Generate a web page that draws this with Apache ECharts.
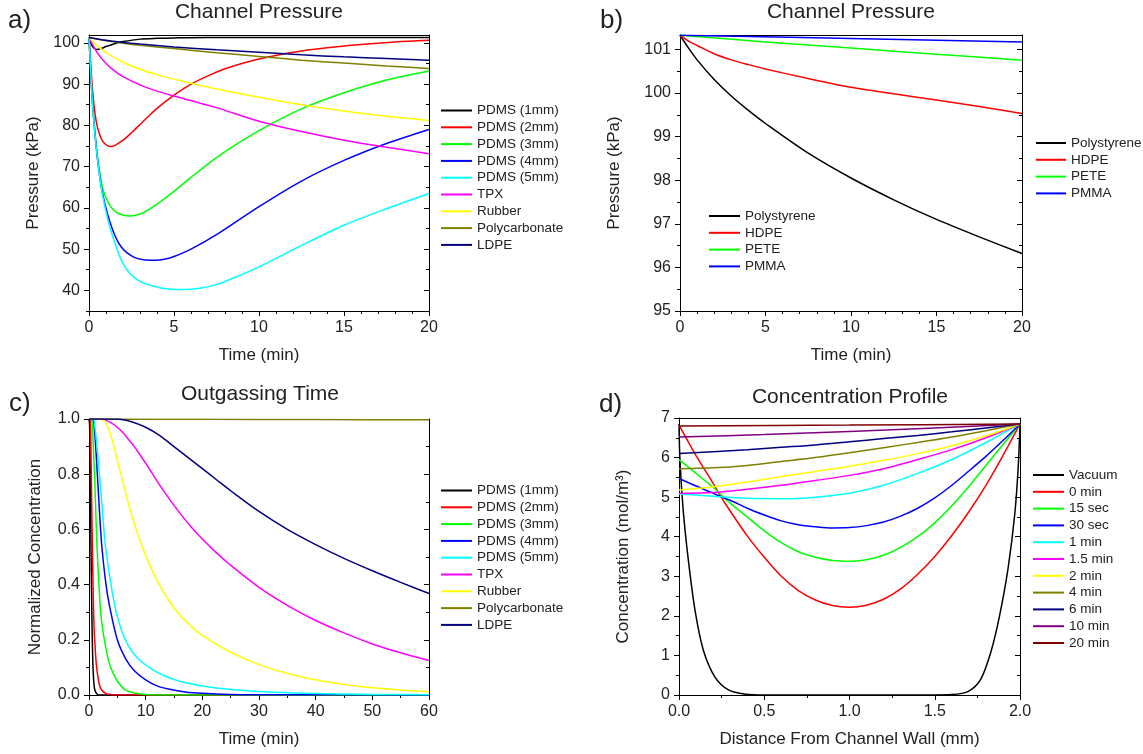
<!DOCTYPE html>
<html><head><meta charset="utf-8">
<script src="https://cdn.jsdelivr.net/npm/echarts@6/dist/echarts.min.js"></script>
<style>html,body{margin:0;padding:0;background:#fff}#c{width:1143px;height:754px}</style>
</head><body><div id="c"></div>
<script>
// ---------- DATA ----------
// Panel a: Channel Pressure (kPa) vs time (min)
const aNames = ['PDMS (1mm)','PDMS (2mm)','PDMS (3mm)','PDMS (4mm)','PDMS (5mm)','TPX','Rubber','Polycarbonate','LDPE'];
const a_pdms1_t = [0,0.15,0.3,0.45,0.7,1,1.5,2,3,4,5,7,10,15,20];
const a_pdms1_p = [101.3,99.5,98.7,98.4,98.6,99.1,99.8,100.3,100.9,101.1,101.2,101.3,101.3,101.3,101.3];
const a_pdms2_t = [0,0.1,0.2,0.35,0.5,0.75,1,1.25,1.5,2,2.5,3,3.5,4,5,6,7,8,9,10,12,14,16,18,20];
const a_pdms2_p = [101.3,95,89,83,79.5,76.5,75.3,74.9,75.1,76.4,78.2,80.2,82.2,84.1,87.3,90,92,93.7,95,96.1,97.7,98.8,99.6,100.2,100.6];
const a_pdms3_t = [0,0.18,0.33,0.53,0.82,1.1,1.41,1.8,2.4,3,3.67,4.5,5,6,7.5,10,12.5,15,17.5,20];
const a_pdms3_p = [101.3,87.2,79.3,71.5,64.5,61.5,59.6,58.5,58.0,58.5,60.0,62.4,64.0,67.4,72.2,78.7,84,87.9,91,93.2];
const a_pdms4_t = [0,0.18,0.33,0.53,0.82,1.36,1.9,2.6,3.2,3.9,4.5,5,6,7.5,10,12.5,15,17.5,20];
const a_pdms4_p = [101.3,87,79,70.8,63,55,50.5,48.1,47.4,47.3,47.6,48.2,50,53.5,60.3,66.5,71.5,75.6,79.0];
const a_pdms5_t = [0,0.18,0.33,0.53,0.82,1.28,2,2.9,4.3,5.6,6.5,7.5,8.5,10,12.5,15,17.5,20];
const a_pdms5_p = [101.3,86.9,78.8,70.7,62.6,54.6,46.5,42.4,40.5,40.2,40.5,41.4,43.0,45.7,50.9,55.8,59.8,63.5];
const a_tpx_t = [0,0.5,1,1.5,2,3,4,5,6,7.5,10,12.5,15,17.5,20];
const a_tpx_p = [101.3,97.5,95,93.2,91.8,89.8,88.3,87.1,86,84.3,81,78.5,76.4,74.7,73.1];
const a_rub_t = [0,0.5,1,1.5,2,3,4,5,6,7.5,10,12.5,15,17.5,20];
const a_rub_p = [101.3,99.2,97.7,96.4,95.3,93.6,92.3,91.2,90.2,88.8,86.8,85,83.5,82.2,81.2];
const a_pc_t = [0,1,2,3,5,7.5,10,12.5,15,17.5,20];
const a_pc_p = [101.3,100.5,99.9,99.4,98.6,97.6,96.7,95.8,95.1,94.4,93.8];
const a_ldpe_t = [0,1,2,3,5,7.5,10,12.5,15,17.5,20];
const a_ldpe_p = [101.3,100.6,100.1,99.7,99.0,98.3,97.7,97.1,96.6,96.2,95.8];
const aXTicks = [0,5,10,15,20];
const aXMinor = [1,2,3,4,6,7,8,9,11,12,13,14,16,17,18,19];
const aYTicks = [40,50,60,70,80,90,100];
const aYMinor = [35,45,55,65,75,85,95];

// Panel b: Channel Pressure (kPa) vs time (min)
const bNames = ['Polystyrene','HDPE','PETE','PMMA'];
const b_ps_t = [0,0.5,1,2,3,4,5,7.5,10,12.5,15,17.5,20];
const b_ps_p = [101.325,101.03,100.76,100.31,99.93,99.6,99.3,98.62,98.05,97.55,97.1,96.7,96.32];
const b_hdpe_t = [0,0.5,1,2,3,4,5,7.5,10,12.5,15,17.5,20];
const b_hdpe_p = [101.325,101.19,101.09,100.9,100.76,100.65,100.55,100.33,100.13,99.98,99.84,99.69,99.53];
const b_pete_t = [0,5,10,15,20];
const b_pete_p = [101.325,101.17,101.03,100.89,100.75];
const b_pmma_t = [0,10,20];
const b_pmma_p = [101.325,101.25,101.17];
const bXTicks = [0,5,10,15,20];
const bXMinor = [1,2,3,4,6,7,8,9,11,12,13,14,16,17,18,19];
const bYTicks = [95,96,97,98,99,100,101];
const bYMinor = [95.5,96.5,97.5,98.5,99.5,100.5];

// Panel c: Outgassing Time, normalized concentration vs time (min)
const c_pdms1_t = [0,0.1,0.2,0.3,0.4,0.5,0.6,0.75,1,1.5,2,60];
const c_pdms1_v = [1,0.98,0.85,0.65,0.45,0.3,0.18,0.08,0.02,0.002,0,0];
const c_pdms2_t = [0,0.2,0.3,0.41,0.5,0.59,0.7,0.81,0.95,1.06,1.25,1.47,1.8,2.18,3,4,5,60];
const c_pdms2_v = [1,1,0.95,0.785,0.66,0.54,0.41,0.30,0.22,0.18,0.12,0.08,0.04,0.02,0.005,0.001,0,0];
const c_pdms3_t = [0,0.4,0.6,0.8,1.0,1.2,1.41,1.7,2.06,2.4,2.89,3.5,4.24,5,6.3,8,10,12,60];
const c_pdms3_v = [1,1,0.97,0.88,0.785,0.66,0.54,0.42,0.30,0.24,0.18,0.12,0.08,0.05,0.02,0.007,0.002,0,0];
const c_pdms4_t = [0,0.6,1.0,1.47,2.18,3,3.65,5,6.5,8,10,12,14,17,20,25,30,60];
const c_pdms4_v = [1,1,0.95,0.8,0.56,0.4,0.32,0.2,0.13,0.088,0.055,0.033,0.022,0.011,0.006,0.002,0.001,0];
const c_pdms5_t = [0,0.8,1.0,1.5,1.9,2.4,2.9,3.8,4.8,5.8,6.9,8.5,11,13.5,16.3,20,25,30,40,50,60];
const c_pdms5_v = [1,1,0.98,0.88,0.785,0.66,0.54,0.41,0.30,0.23,0.18,0.135,0.095,0.068,0.048,0.033,0.02,0.013,0.005,0.002,0.001];
const c_tpx_t = [0,2,3,4,5,6,7,8,9,10,12,14,16,18,20,22.5,25,30,35,40,45,50,55,60];
const c_tpx_v = [1,1,0.995,0.985,0.97,0.95,0.925,0.9,0.87,0.84,0.775,0.715,0.66,0.61,0.565,0.515,0.47,0.39,0.325,0.27,0.225,0.185,0.153,0.125];
const c_rub_t = [0,2,3,4,5,6,7,8,9,10,12,14,16,18,20,25,30,35,40,45,50,55,60];
const c_rub_v = [1,1,0.985,0.93,0.85,0.77,0.69,0.62,0.56,0.505,0.415,0.345,0.29,0.25,0.215,0.155,0.11,0.078,0.055,0.038,0.026,0.018,0.012];
const c_pc_t = [0,20,40,60];
const c_pc_v = [1,0.999,0.998,0.997];
const c_ldpe_t = [0,5,7.5,10,12.5,15,17.5,20,22.5,25,30,35,40,45,50,55,60];
const c_ldpe_v = [1,1,0.99,0.97,0.94,0.9,0.86,0.82,0.78,0.74,0.665,0.6,0.545,0.495,0.45,0.408,0.368];
const cXTicks = [0,10,20,30,40,50,60];
const cXMinor = [5,15,25,35,45,55];
const cYTicks = [0,0.2,0.4,0.6,0.8,1.0];
const cYMinor = [0.1,0.3,0.5,0.7,0.9];

// Panel d: Concentration profile (mol/m3) vs distance (mm)
const dNames = ['Vacuum','0 min','15 sec','30 sec','1 min','1.5 min','2 min','4 min','6 min','10 min','20 min'];
const d_vac_x = [0,0.006,0.025,0.055,0.094,0.143,0.21,0.29,0.39,0.5,1.5,1.6,1.7,1.77,1.83,1.88,1.93,1.97,1.99,2.0];
const d_vac_y = [6.85,5.9,4.65,3.4,2.14,1.13,0.46,0.13,0.02,0,0,0.01,0.1,0.4,1.1,2.0,3.2,4.6,5.8,6.85];
const d_fine_x = [0,0.1,0.2,0.25,0.3,0.4,0.5,0.6,0.7,0.8,0.9,1.0,1.1,1.2,1.3,1.4,1.5,1.6,1.7,1.8,1.9,2.0];
const d_0min_y = [6.82,6.05,5.35,4.98,4.65,4.02,3.48,3.0,2.64,2.4,2.26,2.22,2.27,2.42,2.68,3.05,3.5,4.03,4.63,5.3,6.05,6.85];
const d_15s_y = [5.95,5.6,5.25,5.05,4.85,4.5,4.15,3.85,3.62,3.48,3.4,3.38,3.42,3.53,3.73,4.0,4.35,4.78,5.27,5.8,6.33,6.85];
const d_30s_y = [5.47,5.28,5.1,5.0,4.92,4.72,4.55,4.4,4.3,4.25,4.22,4.23,4.28,4.37,4.52,4.72,4.98,5.3,5.66,6.03,6.43,6.85];
const d_coarse_x = [0,0.2,0.4,0.6,0.8,1.0,1.2,1.4,1.6,1.8,2.0];
const d_1min_y = [5.08,5.02,4.97,4.96,5.0,5.1,5.3,5.6,5.95,6.38,6.85];
const d_15min_y = [5.1,5.12,5.2,5.3,5.42,5.55,5.72,5.95,6.2,6.5,6.85];
const d_2min_y = [5.18,5.26,5.38,5.52,5.65,5.78,5.93,6.1,6.3,6.55,6.85];
const d_4min_y = [5.72,5.74,5.8,5.9,6.0,6.12,6.25,6.38,6.52,6.68,6.85];
const d_6min_y = [6.1,6.15,6.2,6.26,6.32,6.4,6.48,6.56,6.65,6.75,6.85];
const d_10min_x = [0,0.5,1,1.5,2];
const d_10min_y = [6.52,6.58,6.66,6.75,6.85];
const d_20min_x = [0,1,2];
const d_20min_y = [6.8,6.82,6.85];
const dXTicks = [0,0.5,1.0,1.5,2.0];
const dXMinor = [0.25,0.75,1.25,1.75];
const dYTicks = [0,1,2,3,4,5,6,7];
const dYMinor = [0.5,1.5,2.5,3.5,4.5,5.5,6.5];

// ---------- STYLE ----------
const FONT = '"Liberation Sans", Arial, sans-serif';
const TXT = '#222';
const COL = {black:'#000000', red:'#ff0000', green:'#00ff00', blue:'#0000ff', cyan:'#00ffff',
  magenta:'#ff00ff', yellow:'#ffff00', olive:'#808000', navy:'#000080', purple:'#800080', darkred:'#800000'};

const xAxes = [], yAxes = [];
function addAxes(gi, dim, min, max, majors, minors, fmt, name, nameGap) {
  const arr = dim === 'x' ? xAxes : yAxes;
  const posMain = dim === 'x' ? 'bottom' : 'left';
  const posMirror = dim === 'x' ? 'top' : 'right';
  const base = {type:'value', gridIndex:gi, min:min, max:max, splitLine:{show:false}};
  const mainIdx = arr.length;
  arr.push(Object.assign({}, base, {
    position: posMain, name: name, nameLocation:'middle', nameGap: nameGap,
    nameTextStyle:{fontSize:17, color:TXT, fontFamily:FONT},
    axisLine:{show:true, onZero:false, lineStyle:{color:'#000', width:1}},
    axisTick:{show:true, customValues:majors, length:5, inside:false, lineStyle:{color:'#000', width:1}},
    axisLabel:{show:true, customValues:majors, formatter:fmt, margin:9, fontSize:16, color:TXT, fontFamily:FONT}
  }));
  arr.push(Object.assign({}, base, {
    position: posMain,
    axisLine:{show:false, onZero:false},
    axisTick:{show:true, customValues:minors, length:3, inside:false, lineStyle:{color:'#000', width:1}},
    axisLabel:{show:false}
  }));
  arr.push(Object.assign({}, base, {
    position: posMirror,
    axisLine:{show:true, onZero:false, lineStyle:{color:'#000', width:1}},
    axisTick: dim === 'y' ? {show:true, customValues:majors, length:5, inside:true, lineStyle:{color:'#000', width:1}} : {show:false},
    axisLabel:{show:false}
  }));
  if (dim === 'y') {
    arr.push(Object.assign({}, base, {
      position: posMirror,
      axisLine:{show:false, onZero:false},
      axisTick:{show:true, customValues:minors, length:3, inside:true, lineStyle:{color:'#000', width:1}},
      axisLabel:{show:false}
    }));
  }
  return mainIdx;
}

const grids = [
  {left:89, top:35, width:340, height:276},
  {left:680, top:35, width:342, height:276},
  {left:89, top:419, width:340, height:276},
  {left:679, top:418, width:341, height:277}
];

const fInt = v => String(v);
const f1 = v => v.toFixed(1);

const ax = addAxes(0,'x',0,20,aXTicks,aXMinor,fInt,'Time (min)',36);
const ay = addAxes(0,'y',35,101.9,aYTicks,aYMinor,fInt,'Pressure (kPa)',47);
const bx = addAxes(1,'x',0,20,bXTicks,bXMinor,fInt,'Time (min)',36);
const by = addAxes(1,'y',95,101.33,bYTicks,bYMinor,fInt,'Pressure (kPa)',57);
const cx = addAxes(2,'x',0,60,cXTicks,cXMinor,fInt,'Time (min)',36);
const cy = addAxes(2,'y',0,1,cYTicks,cYMinor,f1,'Normalized Concentration',45);
const dx = addAxes(3,'x',0,2,dXTicks,dXMinor,f1,'Distance From Channel Wall (mm)',36);
const dy = addAxes(3,'y',0,7,dYTicks,dYMinor,fInt,'Concentration (mol/m\u00B3)',47);

function S(name, color, xs, ys, xi, yi) {
  return {type:'line', name:name, xAxisIndex:xi, yAxisIndex:yi,
    data: xs.map((x,i)=>[x, ys[i]]), symbol:'none', showSymbol:false, smooth:0.3,
    lineStyle:{color:color, width:1.5}, itemStyle:{color:color}, silent:true};
}

const series = [
  S(aNames[0], COL.black, a_pdms1_t, a_pdms1_p, ax, ay),
  S(aNames[1], COL.red, a_pdms2_t, a_pdms2_p, ax, ay),
  S(aNames[2], COL.green, a_pdms3_t, a_pdms3_p, ax, ay),
  S(aNames[3], COL.blue, a_pdms4_t, a_pdms4_p, ax, ay),
  S(aNames[4], COL.cyan, a_pdms5_t, a_pdms5_p, ax, ay),
  S(aNames[5], COL.magenta, a_tpx_t, a_tpx_p, ax, ay),
  S(aNames[6], COL.yellow, a_rub_t, a_rub_p, ax, ay),
  S(aNames[7], COL.olive, a_pc_t, a_pc_p, ax, ay),
  S(aNames[8], COL.navy, a_ldpe_t, a_ldpe_p, ax, ay),

  S(bNames[0], COL.black, b_ps_t, b_ps_p, bx, by),
  S(bNames[1], COL.red, b_hdpe_t, b_hdpe_p, bx, by),
  S(bNames[2], COL.green, b_pete_t, b_pete_p, bx, by),
  S(bNames[3], COL.blue, b_pmma_t, b_pmma_p, bx, by),

  S(aNames[0], COL.black, c_pdms1_t, c_pdms1_v, cx, cy),
  S(aNames[1], COL.red, c_pdms2_t, c_pdms2_v, cx, cy),
  S(aNames[2], COL.green, c_pdms3_t, c_pdms3_v, cx, cy),
  S(aNames[3], COL.blue, c_pdms4_t, c_pdms4_v, cx, cy),
  S(aNames[4], COL.cyan, c_pdms5_t, c_pdms5_v, cx, cy),
  S(aNames[5], COL.magenta, c_tpx_t, c_tpx_v, cx, cy),
  S(aNames[6], COL.yellow, c_rub_t, c_rub_v, cx, cy),
  S(aNames[7], COL.olive, c_pc_t, c_pc_v, cx, cy),
  S(aNames[8], COL.navy, c_ldpe_t, c_ldpe_v, cx, cy),

  S(dNames[0], COL.black, d_vac_x, d_vac_y, dx, dy),
  S(dNames[1], COL.red, d_fine_x, d_0min_y, dx, dy),
  S(dNames[2], COL.green, d_fine_x, d_15s_y, dx, dy),
  S(dNames[3], COL.blue, d_fine_x, d_30s_y, dx, dy),
  S(dNames[4], COL.cyan, d_coarse_x, d_1min_y, dx, dy),
  S(dNames[5], COL.magenta, d_coarse_x, d_15min_y, dx, dy),
  S(dNames[6], COL.yellow, d_coarse_x, d_2min_y, dx, dy),
  S(dNames[7], COL.olive, d_coarse_x, d_4min_y, dx, dy),
  S(dNames[8], COL.navy, d_coarse_x, d_6min_y, dx, dy),
  S(dNames[9], COL.purple, d_10min_x, d_10min_y, dx, dy),
  S(dNames[10], COL.darkred, d_20min_x, d_20min_y, dx, dy)
];

function L(names, left, top, w) {
  return {data:names, orient:'vertical', left:left, top:top, itemWidth:w, itemHeight:2, itemGap:2.8,
    icon:'rect', selectedMode:false, padding:0,
    textStyle:{fontSize:13.5, lineHeight:14, color:TXT, fontFamily:FONT}};
}

function T(text, x, y, size) {
  return {type:'text', x:x, y:y, silent:true,
    style:{text:text, fill:TXT, font: size + 'px ' + FONT, align:'center', verticalAlign:'middle'}};
}
function P(text, x, y) {
  return {type:'text', x:x, y:y, silent:true,
    style:{text:text, fill:TXT, font: '26px ' + FONT, align:'left', verticalAlign:'middle'}};
}

const option = {
  animation:false,
  backgroundColor:'#fff',
  textStyle:{fontFamily:FONT},
  grid: grids,
  xAxis: xAxes,
  yAxis: yAxes,
  legend: [
    L(aNames, 441, 103.5, 31),
    L(bNames, 709, 209, 31),
    L(bNames, 1036, 136, 30),
    L(aNames, 441, 483.5, 31),
    L(dNames, 1033, 468, 31)
  ],
  graphic: [
    T('Channel Pressure', 259, 12, 21),
    T('Channel Pressure', 851, 12, 21),
    T('Outgassing Time', 260, 394, 21),
    T('Concentration Profile', 850, 397, 21),
    P('a)', 8, 21),
    P('b)', 600, 21),
    P('c)', 9, 404),
    P('d)', 599, 405)
  ],
  series: series
};

const chart = echarts.init(document.getElementById('c'), null, {renderer:'canvas'});
chart.setOption(option);
</script>
</body></html>
